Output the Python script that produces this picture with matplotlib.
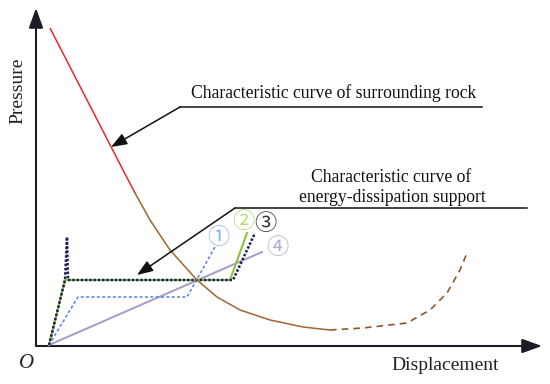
import matplotlib
matplotlib.use("Agg")
import matplotlib.pyplot as plt

# ---- schematic data (displacement, pressure), origin at axis corner ----
rock_red_u = [14, 87, 99]
rock_red_p = [318, 176, 153]
rock_brown_u = [99, 114, 134, 161, 181, 204, 234, 267, 294]
rock_brown_p = [153, 126, 96, 66, 49, 36, 26, 19, 16]
rock_dash_u = [294, 327, 371, 394, 411, 424, 431]
rock_dash_p = [16, 18, 23, 36, 53, 76, 93]

s1_u = [13, 42, 151, 179]
s1_p = [1, 49, 49, 99]
s2_u = [13, 29, 194, 211]
s2_p = [1, 66, 66, 113]
s3_u = [13, 29, 31, 32, 197, 219]
s3_p = [1, 66, 109, 66, 66, 113]
s4_u = [13, 226]
s4_p = [1, 94]

labels = ["①", "②", "③", "④"]
label_u = [182, 207, 229, 241]
label_p = [109, 124, 123, 98]
label_colors = ["#8fb4ea", "#b9d77c", "#333333", "#b3abd3"]

text_rock = "Characteristic curve of surrounding rock"
text_support = ["Characteristic curve of", "energy-dissipation support"]

fig = plt.figure(figsize=(5.5, 3.84), dpi=100)
ax = fig.add_axes([0, 0, 1, 1])
ax.set_xlim(-36, 514)
ax.set_ylim(-38, 346)
ax.axis("off")

serif = "Liberation Serif"
axc = "#1c1c28"

# axes with arrows
ax.annotate("", xy=(0, 338), xytext=(0, 0),
            arrowprops=dict(arrowstyle="-|>,head_length=1.0,head_width=0.36",
                            mutation_scale=12, color=axc, lw=1.5, shrinkA=0, shrinkB=0))
ax.annotate("", xy=(506, 0), xytext=(0, 0),
            arrowprops=dict(arrowstyle="-|>,head_length=1.0,head_width=0.36",
                            mutation_scale=12, color=axc, lw=1.5, shrinkA=0, shrinkB=0))

# support curves
ax.plot(s4_u, s4_p, color="#a29ccb", lw=1.4, zorder=3)
ax.plot(s1_u, s1_p, color="#5a7fe0", lw=1.1, ls=(0, (2, 1.5)), zorder=3)
ax.plot(s2_u, s2_p, color="#93c13c", lw=1.5, zorder=4)
ax.plot(s3_u, s3_p, color="#1b1f5c", lw=1.8, ls=(0, (1, 0.7)), zorder=5)

# rock curve
ax.plot(rock_red_u, rock_red_p, color="#e8282a", lw=1.1, zorder=6, solid_capstyle="butt")
ax.plot(rock_brown_u, rock_brown_p, color="#a0652e", lw=1.1, zorder=6, solid_joinstyle="round")
ax.plot(rock_dash_u, rock_dash_p, color="#8b5a2b", lw=1.2, ls=(0, (4, 3)), zorder=6)

# callouts
ax.plot([144, 446], [239, 239], color="#111111", lw=1.1)
ax.annotate("", xy=(75, 199), xytext=(144, 239),
            arrowprops=dict(arrowstyle="-|>,head_length=0.8,head_width=0.3",
                            mutation_scale=12, color="#111111", lw=1.1, shrinkA=0, shrinkB=0))
ax.plot([199, 491], [138, 138], color="#111111", lw=1.1)
ax.annotate("", xy=(101, 71), xytext=(199, 138),
            arrowprops=dict(arrowstyle="-|>,head_length=0.8,head_width=0.3",
                            mutation_scale=12, color="#111111", lw=1.1, shrinkA=0, shrinkB=0),
            zorder=7)

ax.text(297.5, 248, text_rock, family=serif, fontsize=12.7, ha="center", va="baseline", color="#111111")
ax.text(355, 164, text_support[0], family=serif, fontsize=12.7, ha="center", va="baseline", color="#111111")
ax.text(356, 144, text_support[1], family=serif, fontsize=12.7, ha="center", va="baseline", color="#111111")

for s, u, p, c in zip(labels, label_u, label_p, label_colors):
    ax.text(u, p, s, family=["Noto Sans CJK JP", "DejaVu Sans"], fontsize=16,
            ha="center", va="center", color=c, zorder=8)

ax.text(409, -24, "Displacement", family=serif, fontsize=14, ha="center", va="baseline", color="#222222")
ax.text(-18, 255, "Pressure", family=serif, fontsize=14, ha="center", va="center",
        rotation=90, color="#222222")
ax.text(-9, -18, "O", family=serif, fontsize=15, style="italic", ha="center", va="center", color="#222222")

fig.savefig("out.png", dpi=100)
